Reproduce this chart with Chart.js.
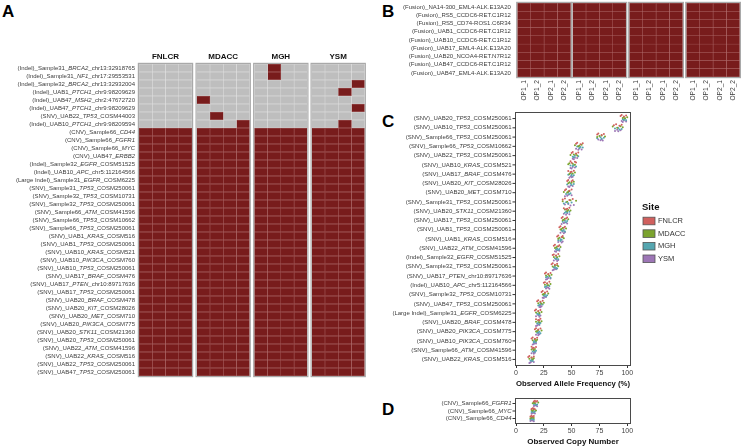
<!DOCTYPE html>
<html>
<head>
<meta charset="utf-8">
<script src="https://cdn.jsdelivr.net/npm/chart.js@4.4.1/dist/chart.umd.min.js"></script>
<style>
  html, body { margin: 0; padding: 0; background: #fff; }
  #wrap { position: relative; width: 741px; height: 447px; overflow: hidden; }
  #wrap canvas { position: absolute; left: 0; top: 0; }
  .tag { position: absolute; font: bold 17px "Liberation Sans", Arial, sans-serif; color: #000; }
</style>
</head>
<body>
<div id="wrap">
  <div class="tag" style="left:2px;top:2px">A</div>
  <div class="tag" style="left:382px;top:2px">B</div>
  <div class="tag" style="left:382px;top:112px">C</div>
  <div class="tag" style="left:382px;top:400px">D</div>
</div>
<script>
const W = 741, H = 447;
const FONT = '"Liberation Sans", Arial, sans-serif';
const RED = '#781c1c', GRAY = '#bebebe';

const siteNames = ['FNLCR', 'MDACC', 'MGH', 'YSM'];
const siteColors = ['#d0605e', '#7ba32e', '#55a6b0', '#9d76b6'];
const opLabels = ['OP1_1', 'OP1_2', 'OP2_1', 'OP2_2'];
const xTicks = [0, 25, 50, 75, 100];

// panel A: one string per variant, one char per run (1 = detected)
const aRows = [
  '(Indel)_Sample31_BRCA2_chr13:32918765',
  '(Indel)_Sample31_NF1_chr17:29553531',
  '(Indel)_Sample32_BRCA2_chr13:32932004',
  '(Indel)_UAB1_PTCH1_chr9:98209629',
  '(Indel)_UAB47_MSH2_chr2:47672720',
  '(Indel)_UAB47_PTCH1_chr9:98209629',
  '(SNV)_UAB22_TP53_COSM44003',
  '(Indel)_UAB10_PTCH1_chr9:98209594',
  '(CNV)_Sample66_CD44',
  '(CNV)_Sample66_FGFR1',
  '(CNV)_Sample66_MYC',
  '(CNV)_UAB47_ERBB2',
  '(Indel)_Sample32_EGFR_COSM51525',
  '(Indel)_UAB10_APC_chr5:112164566',
  '(Large Indel)_Sample31_EGFR_COSM6225',
  '(SNV)_Sample31_TP53_COSM250061',
  '(SNV)_Sample32_TP53_COSM10731',
  '(SNV)_Sample32_TP53_COSM250061',
  '(SNV)_Sample66_ATM_COSM41596',
  '(SNV)_Sample66_TP53_COSM10662',
  '(SNV)_Sample66_TP53_COSM250061',
  '(SNV)_UAB1_KRAS_COSM516',
  '(SNV)_UAB1_TP53_COSM250061',
  '(SNV)_UAB10_KRAS_COSM521',
  '(SNV)_UAB10_PIK3CA_COSM760',
  '(SNV)_UAB10_TP53_COSM250061',
  '(SNV)_UAB17_BRAF_COSM476',
  '(SNV)_UAB17_PTEN_chr10:89717636',
  '(SNV)_UAB17_TP53_COSM250061',
  '(SNV)_UAB20_BRAF_COSM478',
  '(SNV)_UAB20_KIT_COSM28026',
  '(SNV)_UAB20_MET_COSM710',
  '(SNV)_UAB20_PIK3CA_COSM775',
  '(SNV)_UAB20_STK11_COSM21360',
  '(SNV)_UAB20_TP53_COSM250061',
  '(SNV)_UAB22_ATM_COSM41596',
  '(SNV)_UAB22_KRAS_COSM516',
  '(SNV)_UAB22_TP53_COSM250061',
  '(SNV)_UAB47_TP53_COSM250061'
];
const fnlcrCalls = [
  '0000', '0000', '0000', '0000', '0000', '0000', '0000', '0000',
  '1111', '1111', '1111', '1111', '1111', '1111', '1111', '1111',
  '1111', '1111', '1111', '1111', '1111', '1111', '1111', '1111',
  '1111', '1111', '1111', '1111', '1111', '1111', '1111', '1111',
  '1111', '1111', '1111', '1111', '1111', '1111', '1111'
];
const mdaccCalls = [
  '0000', '0000', '0000', '0000', '1000', '0000', '0100', '0001',
  '1111', '1111', '1111', '1111', '1111', '1111', '1111', '1111',
  '1111', '1111', '1111', '1111', '1111', '1111', '1111', '1111',
  '1111', '1111', '1111', '1111', '1111', '1111', '1111', '1111',
  '1111', '1111', '1111', '1111', '1111', '1111', '1111'
];
const mghCalls = [
  '0100', '0100', '0000', '0000', '0000', '0000', '0000', '0000',
  '1111', '1111', '1111', '1111', '1111', '1111', '1111', '1111',
  '1111', '1111', '1111', '1111', '1111', '1111', '1111', '1111',
  '1111', '1111', '1111', '1111', '1111', '1111', '1111', '1111',
  '1111', '1111', '1111', '1111', '1111', '1111', '1111'
];
const ysmCalls = [
  '0000', '0000', '0001', '0010', '0000', '0001', '0000', '0010',
  '1111', '1111', '1111', '1111', '1111', '1111', '1111', '1111',
  '1111', '1111', '1111', '1111', '1111', '1111', '1111', '1111',
  '1111', '1111', '1111', '1111', '1111', '1111', '1111', '1111',
  '1111', '1111', '1111', '1111', '1111', '1111', '1111'
];

// panel B: every fusion was called in every run at every site
const bRows = [
  '(Fusion)_NA14-300_EML4-ALK.E13A20',
  '(Fusion)_RS5_CCDC6-RET.C1R12',
  '(Fusion)_RS5_CD74-ROS1.C6R34',
  '(Fusion)_UAB1_CCDC6-RET.C1R12',
  '(Fusion)_UAB10_CCDC6-RET.C1R12',
  '(Fusion)_UAB17_EML4-ALK.E13A20',
  '(Fusion)_UAB20_NCOA4-RET.N7R12',
  '(Fusion)_UAB47_CCDC6-RET.C1R12',
  '(Fusion)_UAB47_EML4-ALK.E13A20'
];
const fusionCalls = ['1111', '1111', '1111', '1111', '1111', '1111', '1111', '1111', '1111'];

// panel C: observed allele frequency (%), four runs per site
const cRows = [
  '(SNV)_UAB20_TP53_COSM250061',
  '(SNV)_UAB10_TP53_COSM250061',
  '(SNV)_Sample66_TP53_COSM250061',
  '(SNV)_Sample66_TP53_COSM10662',
  '(SNV)_UAB22_TP53_COSM250061',
  '(SNV)_UAB10_KRAS_COSM521',
  '(SNV)_UAB17_BRAF_COSM476',
  '(SNV)_UAB20_KIT_COSM28026',
  '(SNV)_UAB20_MET_COSM710',
  '(SNV)_Sample31_TP53_COSM250061',
  '(SNV)_UAB20_STK11_COSM21360',
  '(SNV)_UAB17_TP53_COSM250061',
  '(SNV)_UAB1_TP53_COSM250061',
  '(SNV)_UAB1_KRAS_COSM516',
  '(SNV)_UAB22_ATM_COSM41596',
  '(Indel)_Sample32_EGFR_COSM51525',
  '(SNV)_Sample32_TP53_COSM250061',
  '(SNV)_UAB17_PTEN_chr10:89717636',
  '(Indel)_UAB10_APC_chr5:112164566',
  '(SNV)_Sample32_TP53_COSM10731',
  '(SNV)_UAB47_TP53_COSM250061',
  '(Large Indel)_Sample31_EGFR_COSM6225',
  '(SNV)_UAB20_BRAF_COSM478',
  '(SNV)_UAB20_PIK3CA_COSM775',
  '(SNV)_UAB10_PIK3CA_COSM760',
  '(SNV)_Sample66_ATM_COSM41596',
  '(SNV)_UAB22_KRAS_COSM516'
];
const fnlcrAF = [
  [95, 90, 74, 55, 51, 49, 52, 47, 45, 44, 48, 42, 40, 38, 35, 38, 33, 27, 30, 24, 20, 18, 22, 18, 15, 14, 12],
  [99, 95, 79, 60, 56, 53, 47, 51, 50, 51, 43, 46, 44, 42, 39, 34, 37, 31, 26, 28, 24, 22, 18, 22, 19, 18, 16],
  [94, 88, 73, 54, 50, 54, 50, 46, 44, 42, 46, 41, 39, 37, 34, 33, 32, 26, 25, 23, 19, 17, 20, 17, 14, 16, 11],
  [97, 93, 77, 58, 54, 50, 49, 50, 48, 48, 45, 45, 43, 41, 38, 36, 35, 29, 28, 26, 22, 20, 21, 20, 17, 15, 14]
];
const mdaccAF = [
  [97, 94, 77, 59, 54, 48, 53, 52, 48, 49, 44, 44, 42, 42, 37, 36, 37, 29, 28, 26, 22, 20, 20, 20, 17, 15, 14],
  [100, 87, 75, 53, 52, 51, 49, 48, 47, 54, 47, 47, 45, 39, 40, 39, 35, 32, 31, 29, 25, 23, 23, 23, 19, 17, 16],
  [96, 96, 80, 57, 49, 47, 51, 50, 43, 42, 49, 43, 41, 43, 36, 34, 38, 27, 26, 25, 20, 18, 18, 19, 15, 14, 12],
  [98, 91, 73, 56, 55, 53, 48, 47, 46, 46, 46, 42, 40, 38, 35, 37, 33, 30, 29, 24, 23, 21, 21, 18, 18, 16, 15]
];
const mghAF = [
  [98, 92, 76, 55, 53, 52, 50, 49, 47, 45, 45, 44, 43, 40, 37, 37, 35, 30, 28, 26, 22, 21, 20, 21, 17, 16, 15],
  [96, 89, 79, 58, 56, 49, 47, 52, 49, 50, 48, 46, 41, 41, 39, 35, 34, 28, 30, 28, 24, 19, 22, 20, 16, 18, 14],
  [97, 95, 73, 60, 51, 51, 52, 46, 45, 47, 46, 42, 42, 38, 36, 36, 36, 27, 27, 25, 21, 20, 19, 19, 18, 15, 13],
  [99, 93, 77, 57, 52, 54, 50, 50, 48, 43, 44, 45, 44, 40, 38, 38, 37, 31, 26, 27, 20, 21, 21, 22, 16, 17, 15]
];
const ysmAF = [
  [97, 91, 77, 57, 53, 51, 49, 49, 47, 47, 46, 44, 42, 40, 37, 36, 35, 29, 28, 26, 22, 20, 20, 20, 17, 16, 14],
  [95, 94, 74, 54, 55, 53, 51, 51, 50, 44, 43, 43, 44, 42, 39, 38, 36, 31, 29, 27, 23, 22, 21, 21, 18, 17, 16],
  [99, 89, 76, 59, 51, 49, 50, 47, 46, 52, 48, 46, 40, 38, 35, 34, 34, 28, 27, 24, 21, 18, 19, 18, 16, 14, 13],
  [96, 92, 78, 56, 52, 50, 48, 48, 44, 49, 45, 41, 43, 41, 36, 37, 33, 27, 30, 25, 22, 21, 18, 20, 15, 16, 12]
];

// panel D: observed copy number
const dRows = ['(CNV)_Sample66_FGFR1', '(CNV)_Sample66_MYC', '(CNV)_Sample66_CD44'];
const fnlcrCN = [[17, 15, 14], [19, 16, 16], [16, 14, 13], [18, 17, 15]];
const mdaccCN = [[16, 16, 15], [20, 14, 14], [17, 18, 16], [15, 15, 13]];
const mghCN = [[17, 15, 14], [16, 17, 15], [19, 14, 13], [18, 16, 16]];
const ysmCN = [[18, 16, 14], [17, 15, 15], [16, 17, 13], [19, 14, 16]];

Chart.defaults.font.family = FONT;

const makeCanvas = () => {
  const c = document.createElement('canvas');
  c.width = W; c.height = H;
  document.getElementById('wrap').appendChild(c);
  return c.getContext('2d');
};

// row label with the gene name in italics
const drawRowLabel = (ctx, text, xr, y, italic) => {
  let parts = [text];
  if (italic) {
    const p = text.split('_');
    parts = [p.slice(0, 2).join('_') + '_', p[2]];
    if (p.length > 3) parts.push('_' + p.slice(3).join('_'));
  }
  const fonts = parts.map((_, k) => (italic && k === 1 ? 'italic ' : '') + '6px ' + FONT);
  const widths = parts.map((s, k) => { ctx.font = fonts[k]; return ctx.measureText(s).width; });
  let x = xr - widths.reduce((s, w) => s + w, 0);
  ctx.fillStyle = '#3c3c3c'; ctx.textAlign = 'left'; ctx.textBaseline = 'middle';
  parts.forEach((s, k) => { ctx.font = fonts[k]; ctx.fillText(s, x, y); x += widths[k]; });
};

const heatDecor = (opt) => ({
  id: 'heatDecor',
  afterDatasetsDraw(chart) {
    const { ctx, chartArea: a, scales: { x, y } } = chart;
    ctx.save();
    ctx.strokeStyle = '#a9a9a9'; ctx.lineWidth = 1.2;
    ctx.strokeRect(a.left - 0.6, a.top - 0.6, a.right - a.left + 1.2, a.bottom - a.top + 1.2);
    if (opt.title) {
      ctx.font = 'bold 8px ' + FONT; ctx.fillStyle = '#111';
      ctx.textAlign = 'center'; ctx.textBaseline = 'middle';
      ctx.fillText(opt.title, (a.left + a.right) / 2, a.top - 7);
    }
    if (opt.rowLabels) {
      chart.data.labels.forEach((t, i) => drawRowLabel(ctx, t, a.left - opt.gap, y.getPixelForValue(i), opt.italic));
    }
    if (opt.colLabels) {
      ctx.font = '6.6px ' + FONT; ctx.fillStyle = '#3c3c3c';
      opt.colLabels.forEach((t, c) => {
        ctx.save();
        ctx.translate(x.getPixelForValue(c + 0.5), a.bottom + 3);
        ctx.rotate(-Math.PI / 2);
        ctx.textAlign = 'right'; ctx.textBaseline = 'middle';
        ctx.fillText(t, 0, 0);
        ctx.restore();
      });
    }
    ctx.restore();
  }
});

const heatmap = (rows, calls, left, width, top, bottom, opt) => {
  const datasets = [0, 1, 2, 3].map(col => ({
    data: rows.map(() => 1),
    backgroundColor: calls.map(s => s[col] === '1' ? RED : GRAY),
    borderColor: calls.map(s => s[col] === '1' ? '#b06c6c' : '#e2e2e2'),
    borderWidth: 0.5,
    borderSkipped: false,
    barPercentage: 1,
    categoryPercentage: 1
  }));
  new Chart(makeCanvas(), {
    type: 'bar',
    data: { labels: rows, datasets },
    options: {
      indexAxis: 'y', responsive: false, animation: false, devicePixelRatio: 1,
      layout: { padding: { left, top, right: W - left - width, bottom: H - bottom } },
      plugins: { legend: { display: false }, tooltip: { enabled: false } },
      scales: {
        x: { stacked: true, min: 0, max: 4, display: false },
        y: { stacked: true, display: false }
      }
    },
    plugins: [heatDecor(opt)]
  });
};

const dotDecor = (rows, withLegend) => ({
  id: 'dotDecor',
  afterDatasetsDraw(chart) {
    const { ctx, chartArea: a, scales: { y } } = chart;
    ctx.save();
    ctx.strokeStyle = '#4a4a4a'; ctx.lineWidth = 1;
    ctx.strokeRect(a.left - 0.5, a.top - 0.5, a.right - a.left + 1, a.bottom - a.top + 1);
    rows.forEach((t, i) => {
      const py = y.getPixelForValue(i);
      ctx.beginPath(); ctx.moveTo(a.left - 3.5, py); ctx.lineTo(a.left - 0.5, py);
      ctx.strokeStyle = '#333'; ctx.stroke();
      drawRowLabel(ctx, t, a.left - 4.5, py, true);
    });
    if (withLegend) {
      ctx.font = 'bold 9.5px ' + FONT; ctx.fillStyle = '#111';
      ctx.textAlign = 'left'; ctx.textBaseline = 'middle';
      ctx.fillText('Site', 642, 207);
      chart.data.datasets.forEach((ds, k) => {
        const ly = 221 + k * 12.6;
        ctx.fillStyle = ds.backgroundColor;
        ctx.fillRect(643, ly - 3.8, 12, 7.6);
        ctx.strokeStyle = '#555'; ctx.lineWidth = 0.8;
        ctx.strokeRect(643, ly - 3.8, 12, 7.6);
        ctx.font = '7.5px ' + FONT; ctx.fillStyle = '#333';
        ctx.fillText(ds.label, 658, ly);
      });
    }
    ctx.restore();
  }
});

const siteOffset = [-0.3, -0.1, 0.1, 0.3];
const repOffset = [-0.08, -0.03, 0.03, 0.08];

const dotSets = (siteVals) => siteNames.map((name, s) => ({
  label: name,
  data: siteVals[s].flatMap((rep, r) => rep.map((v, i) => ({ x: v, y: i + siteOffset[s] + repOffset[r] }))),
  backgroundColor: siteColors[s],
  pointRadius: 1,
  borderWidth: 0
}));

const dotPlot = (rows, siteVals, top, bottomPad, title, withLegend) => new Chart(makeCanvas(), {
  type: 'scatter',
  data: { datasets: dotSets(siteVals) },
  options: {
    responsive: false, animation: false, devicePixelRatio: 1,
    layout: { padding: { left: 516, right: W - 630, top, bottom: bottomPad } },
    plugins: { legend: { display: false }, tooltip: { enabled: false } },
    scales: {
      x: {
        min: 0, max: 102.5,
        afterBuildTicks: sc => { sc.ticks = xTicks.map(v => ({ value: v })); },
        grid: { drawOnChartArea: false, tickLength: 3, color: '#333' },
        border: { display: false },
        ticks: { font: { size: 7 }, color: '#444', padding: 1, maxRotation: 0 },
        title: { display: true, text: title, font: { size: 8, weight: 'bold' }, color: '#111', padding: { top: 1, bottom: 0 } }
      },
      y: { min: -0.6, max: rows.length - 0.4, reverse: true, display: false }
    }
  },
  plugins: [dotDecor(rows, withLegend)]
});

document.addEventListener('DOMContentLoaded', () => {
  const aLeft = [139, 196.7, 254.3, 311.7];
  [fnlcrCalls, mdaccCalls, mghCalls, ysmCalls].forEach((calls, k) =>
    heatmap(aRows, calls, aLeft[k], 53, 64, 376,
      { title: siteNames[k], rowLabels: k === 0, italic: true, gap: 4 }));

  const bLeft = [517.3, 572.6, 629.3, 686.3];
  bLeft.forEach((left, k) =>
    heatmap(bRows, fusionCalls, left, 53.5, 3, 77,
      { rowLabels: k === 0, italic: false, gap: 6.5, colLabels: opLabels }));

  dotPlot(cRows, [fnlcrAF, mdaccAF, mghAF, ysmAF], 113, 58, 'Observed Allele Frequency (%)', true);
  dotPlot(dRows, [fnlcrCN, mdaccCN, mghCN, ysmCN], 399, 0, 'Observed Copy Number', false);
});
</script>
</body>
</html>
